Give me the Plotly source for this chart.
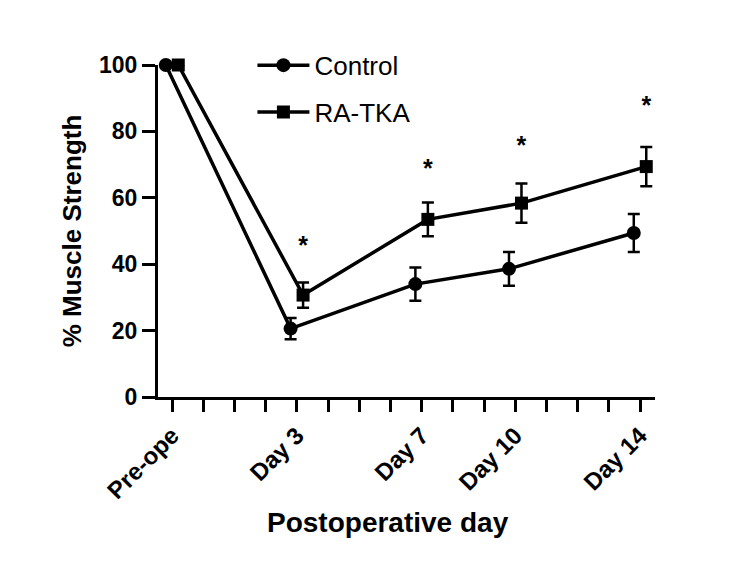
import plotly.graph_objects as go

# ---- data ----
days = [-1, 3, 7, 10, 14]           # Pre-ope plotted one day before day 0
tick_labels = ["Pre-ope", "Day 3", "Day 7", "Day 10", "Day 14"]
control = [100, 20.6, 34.0, 38.6, 49.4]
control_err = [0, 3.2, 5.0, 5.1, 5.7]
ratka = [100, 30.7, 53.5, 58.4, 69.4]
ratka_err = [0, 3.8, 5.1, 5.9, 5.9]
star_days = [3, 7, 10, 14]
star_y = [45.0, 68.0, 75.0, 87.0]
offset = 0.2

FONT = "Liberation Sans, Arial, sans-serif"

fig = go.Figure()
fig.add_trace(go.Scatter(
    x=[d - offset for d in days], y=control, name="Control",
    mode="lines+markers", legendgroup="c",
    line=dict(color="black", width=3.5),
    marker=dict(symbol="circle", size=14, color="black"),
    error_y=dict(type="data", array=control_err, color="black", thickness=2.5, width=6),
    cliponaxis=False,
))
fig.add_trace(go.Scatter(
    x=[d + offset for d in days], y=ratka, name="RA-TKA",
    mode="lines+markers", legendgroup="r",
    line=dict(color="black", width=3.5),
    marker=dict(symbol="square", size=13, color="black"),
    error_y=dict(type="data", array=ratka_err, color="black", thickness=2.5, width=6),
    cliponaxis=False,
))
fig.add_trace(go.Scatter(
    x=[d + offset for d in star_days], y=star_y, mode="text", text=["*"] * len(star_days),
    textfont=dict(family=FONT, size=25, color="black", weight="bold"), showlegend=False,
    cliponaxis=False, textposition="middle center",
))

fig.update_layout(
    width=750, height=563,
    margin=dict(l=158, r=95, t=65, b=166),
    paper_bgcolor="white", plot_bgcolor="white",
    font=dict(family=FONT, color="black"),
    showlegend=True,
    legend=dict(x=0.19, y=1.07, xanchor="left", yanchor="top",
                font=dict(family=FONT, size=26, color="black"),
                bgcolor="rgba(0,0,0,0)", tracegroupgap=10, itemwidth=52),
    annotations=[dict(text="<b>Postoperative day</b>", xref="paper", yref="paper",
                      x=0.463, y=-0.377, xanchor="center", yanchor="middle", showarrow=False,
                      font=dict(family=FONT, size=28, color="black"))],
)
fig.update_xaxes(
    range=[-1.45, 14.48], showgrid=False, zeroline=False,
    showline=True, linecolor="black", linewidth=3,
    tickmode="array", tickvals=days, ticktext=tick_labels,
    ticks="outside", ticklen=12, tickwidth=3, tickcolor="black",
    tickangle=-45,
    tickfont=dict(family=FONT, size=24, color="black", weight="bold"),
    minor=dict(tickmode="linear", tick0=-1, dtick=1, ticks="outside",
               ticklen=12, tickwidth=3, tickcolor="black"),
)
fig.update_yaxes(
    range=[0, 100], showgrid=False, zeroline=False,
    showline=True, linecolor="black", linewidth=3,
    tickmode="array", tickvals=[0, 20, 40, 60, 80, 100],
    ticks="outside", ticklen=13, tickwidth=3, tickcolor="black",
    tickfont=dict(family=FONT, size=23, color="black", weight="bold"),
    title=dict(text="<b>% Muscle Strength</b>", font=dict(family=FONT, size=26, color="black"),
               standoff=10),
)

fig.write_html("out.html")
